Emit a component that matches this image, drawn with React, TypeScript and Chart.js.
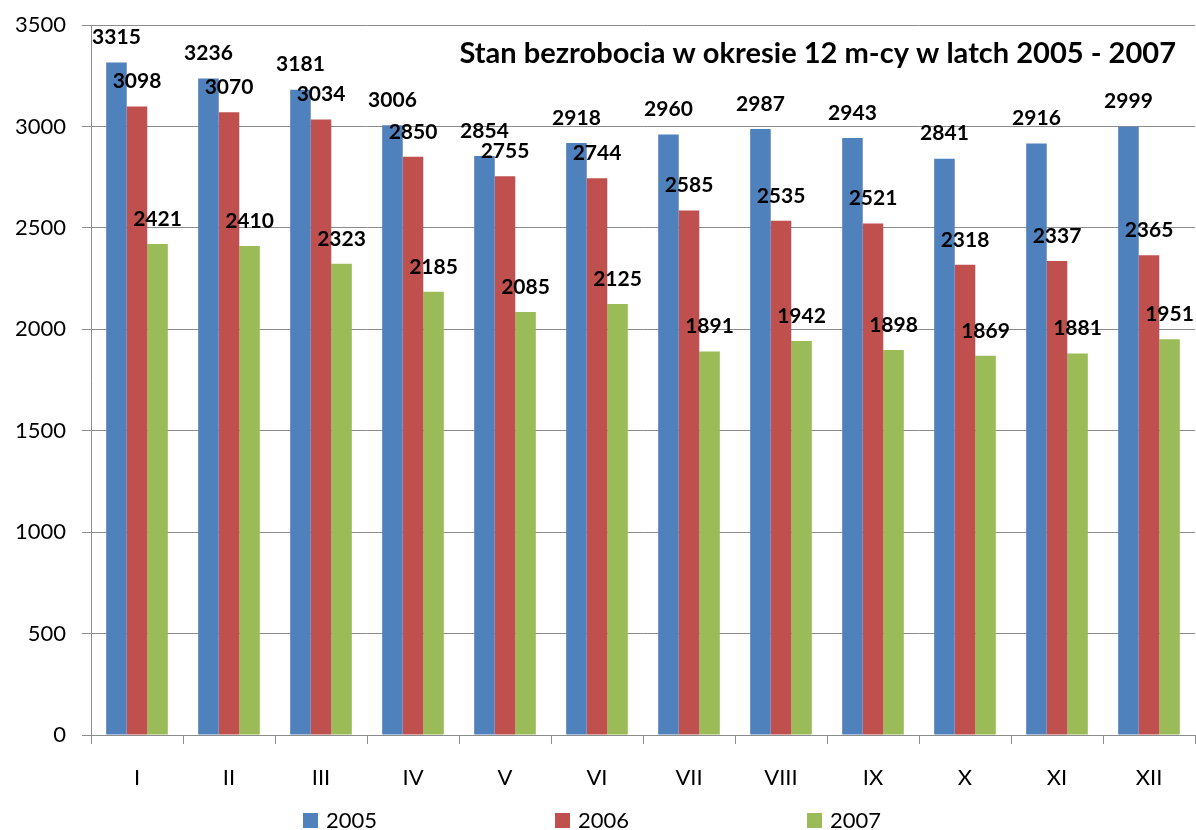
import React, { useEffect, useRef } from "react";
import { Chart, registerables } from "chart.js";

Chart.register(...registerables);

const months = ["I", "II", "III", "IV", "V", "VI", "VII", "VIII", "IX", "X", "XI", "XII"];
const seriesNames = ["2005", "2006", "2007"];
const values2005 = [3315, 3236, 3181, 3006, 2854, 2918, 2960, 2987, 2943, 2841, 2916, 2999];
const values2006 = [3098, 3070, 3034, 2850, 2755, 2744, 2585, 2535, 2521, 2318, 2337, 2365];
const values2007 = [2421, 2410, 2323, 2185, 2085, 2125, 1891, 1942, 1898, 1869, 1881, 1951];
const colors = ["#4F81BD", "#C0504D", "#9BBB59"];
const yTicks = [0, 500, 1000, 1500, 2000, 2500, 3000, 3500];
const titleText = "Stan bezrobocia w okresie 12 m-cy w latch 2005 - 2007";

const GRID = "#8c8c8c";
const FONT = "Lato, 'Liberation Sans', sans-serif";

const valueLabels = {
  id: "valueLabels",
  afterDatasetsDraw(chart: any) {
    const ctx = chart.ctx;
    ctx.save();
    ctx.font = `bold 21px ${FONT}`;
    ctx.fillStyle = "#000";
    ctx.textAlign = "center";
    ctx.textBaseline = "middle";
    chart.data.datasets.forEach((ds: any, di: number) => {
      const meta = chart.getDatasetMeta(di);
      meta.data.forEach((el: any, i: number) => {
        ctx.fillText(String(ds.data[i]), el.x, el.y - 25);
      });
    });
    ctx.restore();
  },
};

const insideTitle = {
  id: "insideTitle",
  afterDraw(chart: any) {
    const ctx = chart.ctx;
    ctx.save();
    let size = 28;
    ctx.font = `bold ${size}px ${FONT}`;
    const w = ctx.measureText(titleText).width;
    size = size * 717 / w;
    ctx.font = `bold ${size}px ${FONT}`;
    ctx.fillStyle = "#000";
    ctx.textAlign = "right";
    ctx.textBaseline = "alphabetic";
    ctx.fillText(titleText, chart.chartArea.right - 19, 63);
    ctx.restore();
  },
};

const bottomLegend = {
  id: "bottomLegend",
  afterDraw(chart: any) {
    const ctx = chart.ctx;
    ctx.save();
    ctx.font = `22px ${FONT}`;
    ctx.textAlign = "left";
    ctx.textBaseline = "middle";
    const startX = 303;
    const step = 252;
    seriesNames.forEach((name, i) => {
      const x = startX + i * step;
      ctx.fillStyle = colors[i];
      ctx.fillRect(x, 813, 15, 15);
      ctx.fillStyle = "#000";
      ctx.fillText(name, x + 23, 821);
    });
    ctx.restore();
  },
};

const whiteBg = {
  id: "whiteBg",
  beforeDraw(chart: any) {
    const ctx = chart.ctx;
    ctx.save();
    ctx.fillStyle = "#fff";
    ctx.fillRect(0, 0, chart.width, chart.height);
    ctx.restore();
  },
};

export default function App() {
  const ref = useRef<HTMLCanvasElement>(null);
  useEffect(() => {
    if (!ref.current) return;
    const chart = new Chart(ref.current, {
      type: "bar",
      data: {
        labels: months,
        datasets: [values2005, values2006, values2007].map((d, i) => ({
          label: seriesNames[i],
          data: d,
          backgroundColor: colors[i],
          borderWidth: 0,
          categoryPercentage: 0.67,
          barPercentage: 1,
        })),
      },
      options: {
        responsive: false,
        animation: false,
        layout: { padding: { top: 25, right: 1, left: 0, bottom: 0 } },
        plugins: {
          legend: { display: false },
          title: { display: false },
          tooltip: { enabled: false },
        },
        scales: {
          x: {
            grid: {
              display: true,
              drawOnChartArea: false,
              drawTicks: true,
              tickLength: 9,
              color: GRID,
              offset: true,
            },
            border: { display: true, color: GRID },
            ticks: {
              color: "#000",
              font: { family: FONT, size: 22 },
              padding: 21,
            },
            afterFit(scale: any) {
              scale.height = 95;
              scale.paddingLeft = 0;
              scale.paddingRight = 0;
            },
          },
          y: {
            min: 0,
            max: 3500,
            afterBuildTicks(scale: any) {
              scale.ticks = yTicks.map((v) => ({ value: v }));
            },
            grid: {
              color: GRID,
              tickLength: 9,
              drawTicks: true,
            },
            border: { display: true, color: GRID },
            ticks: {
              color: "#000",
              font: { family: FONT, size: 22 },
              padding: 16,
              callback: (v: any) => String(v),
            },
            afterFit(scale: any) {
              scale.width = 91;
              scale.paddingTop = 0;
              scale.paddingBottom = 0;
            },
          },
        },
      },
      plugins: [whiteBg, valueLabels, insideTitle, bottomLegend],
    });
    return () => chart.destroy();
  }, []);
  return (
    <div style={{ position: "fixed", left: 0, top: 0, width: 1196, height: 830, background: "#fff" }}>
      <canvas ref={ref} width={1196} height={830} />
    </div>
  );
}
